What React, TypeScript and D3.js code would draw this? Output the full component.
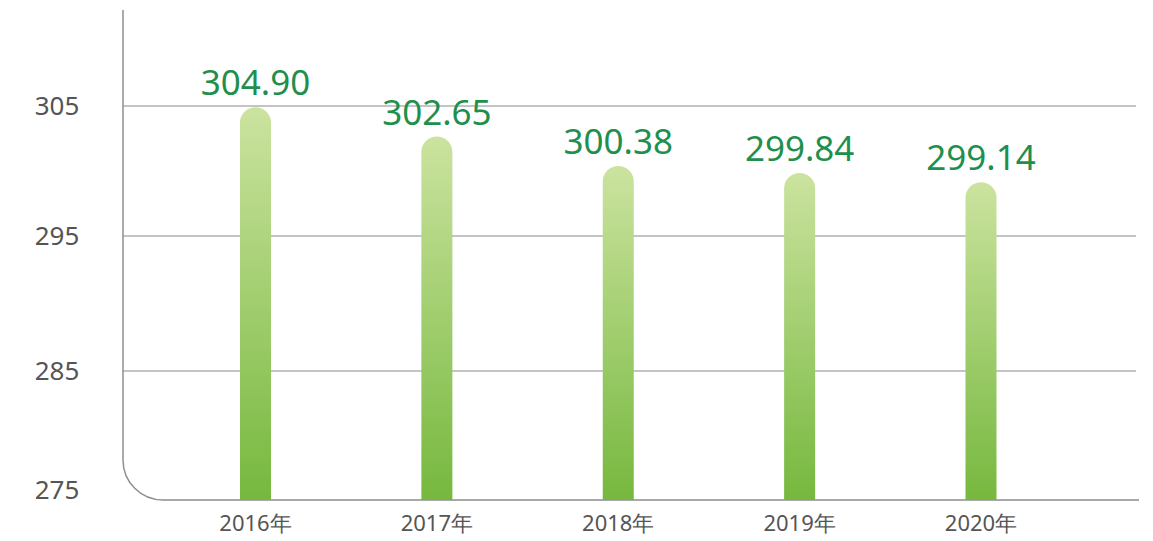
import React from "react";
import * as d3 from "d3";

const years = ["2016年", "2017年", "2018年", "2019年", "2020年"];
const values = [304.9, 302.65, 300.38, 299.84, 299.14];
const valueLabels = ["304.90", "302.65", "300.38", "299.84", "299.14"];
const yTicks = [275, 285, 295, 305];

export default function App() {
  const W = 1153;
  const H = 541;
  const axisX = 123;
  const baseY = 500;
  const corner = 40;

  const y = d3.scaleLinear().domain([275, 285, 295, 305]).range([500, 371, 236, 106]);
  const x = d3.scalePoint<string>().domain(years).range([255.5, 981]);
  const barW = 31;
  const r = barW / 2;

  const barPath = (cx: number, top: number) => {
    const p = d3.path();
    p.moveTo(cx - r, baseY);
    p.lineTo(cx - r, top + r);
    p.arc(cx, top + r, r, Math.PI, 0);
    p.lineTo(cx + r, baseY);
    p.closePath();
    return p.toString();
  };

  const font = "'Noto Sans', 'Open Sans', sans-serif";

  return (
    <svg width={W} height={H} style={{ position: "absolute", left: 0, top: 0, background: "#fff" }}>
      <defs>
        <linearGradient id="barGrad" x1="0" y1="0" x2="0" y2="1">
          <stop offset="0%" stopColor="#cbe39f" />
          <stop offset="100%" stopColor="#76b83e" />
        </linearGradient>
      </defs>
      {yTicks
        .filter((t) => t !== 275)
        .map((t) => (
          <line key={t} x1={axisX} x2={1136} y1={y(t)} y2={y(t)} stroke="#8a8a8a" strokeWidth={1.2} />
        ))}
      <path
        d={`M${axisX},10 L${axisX},${baseY - corner} A${corner},${corner} 0 0 0 ${axisX + corner},${baseY} L1139,${baseY}`}
        fill="none"
        stroke="#8f8f8f"
        strokeWidth={1.5}
      />
      <line x1={axisX + corner} x2={1139} y1={baseY} y2={baseY} stroke="#a8a8a8" strokeWidth={2} />
      {yTicks.map((t) => (
        <text
          key={t}
          x={57}
          y={Math.min(y(t), 490)}
          dy="0.36em"
          textAnchor="middle"
          fontFamily={font}
          fontSize={26}
          fill="#555"
        >
          {t}
        </text>
      ))}
      {years.map((yr, i) => {
        const cx = x(yr) as number;
        const top = y(values[i]);
        return (
          <g key={yr}>
            <path d={barPath(cx, top)} fill="url(#barGrad)" />
            <text
              x={cx}
              y={top - 12}
              textAnchor="middle"
              fontFamily={font}
              fontSize={35}
              fill="#1f8f4e"
            >
              {valueLabels[i]}
            </text>
            <text
              x={cx}
              y={531}
              textAnchor="middle"
              fontFamily={font}
              fontSize={22}
              fill="#555"
            >
              {yr}
            </text>
          </g>
        );
      })}
    </svg>
  );
}
